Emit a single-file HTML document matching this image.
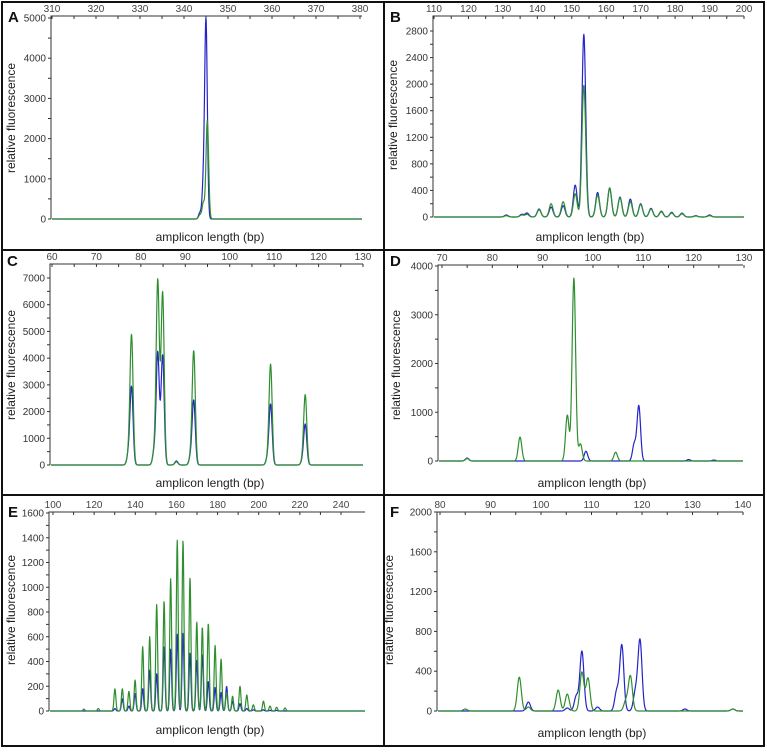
<!DOCTYPE html>
<html><head><meta charset="utf-8"><style>
html,body{margin:0;padding:0;background:#fff;}
svg{display:block;font-family:"Liberation Sans",sans-serif;}
</style></head><body>
<svg id="fig" width="767" height="753" viewBox="0 0 767 753" xmlns="http://www.w3.org/2000/svg">
<g id="frame" stroke="#111" stroke-width="2" fill="none">
<rect x="2" y="2" width="762" height="744"/>
<line x1="384" y1="2" x2="384" y2="746"/>
<line x1="2" y1="250" x2="764" y2="250"/>
<line x1="2" y1="495" x2="764" y2="495"/>
</g>
</svg>
<script>
// ---- Data (peaks) ----
const peaksA = [343.6, 344.4, 345.0, 345.3];
const blueA = [150, 800, 4900, 0];
const greenA = [100, 400, 0, 2450];

const peaksB = [131,135.5,137,140.5,144,147.5,151,153.5,157.5,161,164,167,170,173,176,179,182,186,190];
const blueB = [30,40,60,120,150,170,480,2750,370,430,300,270,200,130,80,70,50,20,30];
const greenB = [20,30,40,110,200,230,350,1980,330,440,290,230,190,120,90,60,60,15,20];

const peaksC = [77.2,77.9,83.0,83.8,84.9,88.0,91.2,91.9,108.5,109.2,116.4,117.0];
const blueC = [400,2900,500,4200,4100,150,300,2400,250,2250,150,1500];
const greenC = [350,4850,500,6900,6450,120,300,4250,200,3750,150,2600];

const peaksD = [75,85.5,94.9,96.2,97.5,98.6,104.5,108.2,109.1,119,124];
const blueD = [60,0,0,0,0,200,0,350,1130,30,20];
const greenD = [50,490,940,3750,350,0,180,0,0,0,0];

const peaksE = [115,122,130.1,133.7,136.9,139.9,143.6,147,150.4,154,157.2,160.4,163.2,166.6,169.9,172.6,175.5,178.8,181.7,184.4,187.3,190.9,194.2,197.4,202.3,205.5,208.7,212.8];
const blueE = [0,0,20,100,40,140,180,330,300,520,500,620,630,470,410,460,240,190,150,200,80,60,20,10,10,5,5,0];
const greenE = [15,20,180,180,160,250,520,600,860,890,1070,1380,1380,1080,720,680,710,530,420,150,120,200,130,50,80,40,30,25];

const peaksF = [85,95.7,97.5,103.4,105.2,107,108.1,109.3,111.2,115,116,116.8,117.7,118.7,119.6,128.5,138];
const blueF = [0,0,90,0,30,150,600,0,40,200,660,0,0,190,710,20,20];
const greenF = [20,340,40,210,170,0,390,330,0,0,0,100,350,0,0,0,20];

const yTicksA = [0,1000,2000,3000,4000,5000];
const yTicksB = [0,400,800,1200,1600,2000,2400,2800];
const yTicksC = [0,1000,2000,3000,4000,5000,6000,7000];
const yTicksD = [0,1000,2000,3000,4000];
const yTicksE = [0,200,400,600,800,1000,1200,1400,1600];
const yTicksF = [0,400,800,1200,1600,2000];
const xTicksA = [310,320,330,340,350,360,370,380];
const xTicksB = [110,120,130,140,150,160,170,180,190,200];
const xTicksC = [60,70,80,90,100,110,120,130];
const xTicksD = [70,80,90,100,110,120,130];
const xTicksE = [100,120,140,160,180,200,220,240];
const xTicksF = [80,90,100,110,120,130,140];

// ---- Geometry ----
const panels = [
 {id:'a',letter:'A',lx:8,ly:22,x0:310,px0:52,x1:380,px1:360,left:51,right:362,top:16,y0px:219,yRef:5000,yRefPx:18,peaks:peaksA,blue:blueA,green:greenA,xt:xTicksA,yt:yTicksA,sig:0.3,tx:15,ty:118,bx:210,by:241},
 {id:'b',letter:'B',lx:390,ly:22,x0:110,px0:434,x1:200,px1:744,left:433,right:744,top:16,y0px:217,yRef:2800,yRefPx:31,peaks:peaksB,blue:blueB,green:greenB,xt:xTicksB,yt:yTicksB,sig:0.55,tx:397,ty:115,bx:590,by:241},
 {id:'c',letter:'C',lx:7,ly:266,x0:60,px0:52,x1:130,px1:363,left:50,right:363,top:264,y0px:465,yRef:7000,yRefPx:278,peaks:peaksC,blue:blueC,green:greenC,xt:xTicksC,yt:yTicksC,sig:0.35,tx:15,ty:365,bx:210,by:487},
 {id:'d',letter:'D',lx:390,ly:266,x0:70,px0:442,x1:130,px1:744,left:438,right:743,top:265,y0px:461,yRef:4000,yRefPx:266,peaks:peaksD,blue:blueD,green:greenD,xt:xTicksD,yt:yTicksD,sig:0.35,tx:400,ty:365,bx:592,by:487},
 {id:'e',letter:'E',lx:8,ly:517,x0:100,px0:53,x1:240,px1:341,left:49,right:365,top:512,y0px:711,yRef:1600,yRefPx:513,peaks:peaksE,blue:blueE,green:greenE,xt:xTicksE,yt:yTicksE,sig:0.45,tx:15,ty:610,bx:210,by:734},
 {id:'f',letter:'F',lx:390,ly:517,x0:80,px0:440,x1:140,px1:743,left:437,right:743,top:512,y0px:711,yRef:2000,yRefPx:512,peaks:peaksF,blue:blueF,green:greenF,xt:xTicksF,yt:yTicksF,sig:0.4,tx:393,ty:610,bx:592,by:737}
];
const NS='http://www.w3.org/2000/svg';
const svg=document.getElementById('fig');
function mk(tag,attrs,parent){const e=document.createElementNS(NS,tag);for(const k in attrs)e.setAttribute(k,attrs[k]);parent.appendChild(e);return e;}

panels.forEach(p=>{
 const xs=v=>p.px0+(v-p.x0)*(p.px1-p.px0)/(p.x1-p.x0);
 const ys=v=>p.y0px-(v)*(p.y0px-p.yRefPx)/p.yRef;
 const xInv=px=>p.x0+(px-p.px0)*(p.x1-p.x0)/(p.px1-p.px0);
 const g=mk('g',{},svg);
 
 
 const L=mk('text',{x:p.lx,y:p.ly,'font-size':15,'font-weight':'bold',fill:'#111'},g);L.textContent=p.letter;
 
 
 const ax=mk('path',{d:`M${p.left},${p.y0px}V${p.top}H${p.right}`,stroke:'#333','stroke-width':1,fill:'none'},g);
 
 
 const step=p.xt[1]-p.xt[0];
 for(let v=p.xt[0];v<=p.xt[p.xt.length-1]+1e-6;v+=step/2){
  const X=xs(v);if(X<p.left-1||X>p.right+1)continue;
  mk('line',{x1:X,y1:p.top,x2:X,y2:p.top+3,stroke:'#333','stroke-width':1},g);
 }
 p.xt.forEach(v=>{const t=mk('text',{x:xs(v),y:p.top-4,'font-size':10,'text-anchor':'middle',fill:'#444'},g);t.textContent=v;
  
  });
 const ystep=p.yt[1]-p.yt[0];
 for(let v=0;v<=p.yt[p.yt.length-1]+1e-6;v+=ystep/2){
  const Y=ys(v);mk('line',{x1:p.left-3,y1:Y,x2:p.left,y2:Y,stroke:'#333','stroke-width':1},g);
 }
 p.yt.forEach(v=>{const t=mk('text',{x:p.left-5,y:ys(v)+3.5,'font-size':10,'text-anchor':'end',fill:'#333'},g);t.textContent=v;
  
  });
 const yt=mk('text',{x:p.tx,y:p.ty,'font-size':12,'text-anchor':'middle',fill:'#222',transform:`rotate(-90 ${p.tx} ${p.ty})`},g);yt.textContent='relative fluorescence';
 
 
 const xt=mk('text',{x:p.bx,y:p.by,'font-size':12,'text-anchor':'middle',fill:'#222'},g);xt.textContent='amplicon length (bp)';
 
 
 [['blue','#2424c8'],['green','#2f8f2f']].forEach(([s,col])=>{
  const h=p[s];let d='';
  const a=xInv(p.left+1),b=xInv(p.right);
  const n=Math.ceil((p.right-p.left)*3);
  for(let i=0;i<=n;i++){const x=a+(b-a)*i/n;let y=0;
   for(let k=0;k<p.peaks.length;k++){const z=(x-p.peaks[k])/p.sig;y+=h[k]*Math.exp(-0.5*z*z);}
   d+=(i?'L':'M')+xs(x).toFixed(2)+','+ys(y).toFixed(2);}
  const path=mk('path',{d:d,stroke:col,'stroke-width':1.2,fill:'none','stroke-linejoin':'round'},g);
  
  
 });
});
</script>
</body></html>
